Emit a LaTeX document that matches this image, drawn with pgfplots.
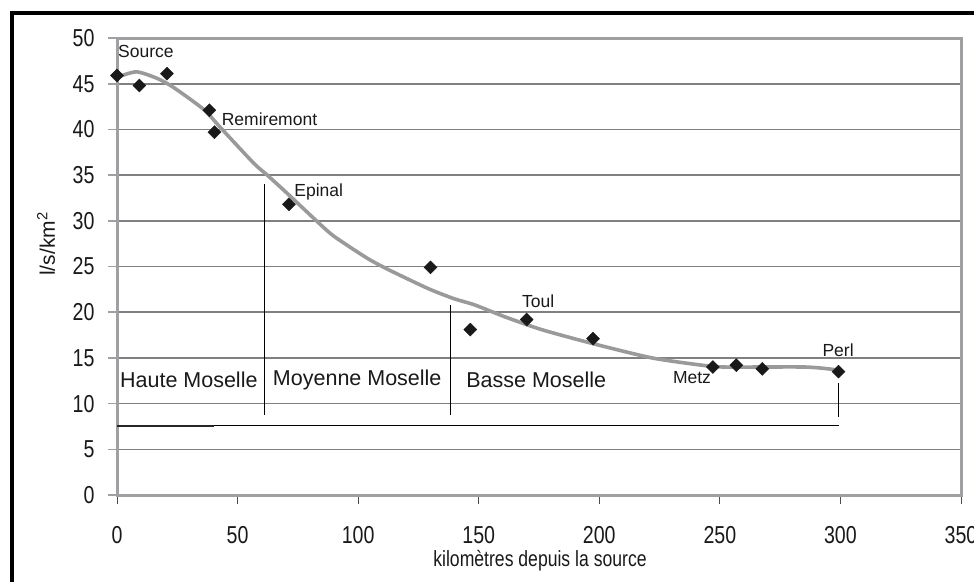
\documentclass[border=0pt]{standalone}
\usepackage{fontspec}
\setmainfont{Liberation Sans}
\newfontfamily\tickfont[FakeStretch=0.8]{Liberation Sans}
\newfontfamily\xlabfont[FakeStretch=0.8]{Liberation Sans}
\usepackage{pgfplots}
\pgfplotsset{compat=1.18}
\definecolor{gridgray}{HTML}{808080}
\definecolor{boxgray}{HTML}{A0A0A4}
\definecolor{curvegray}{HTML}{9A9A9A}
\begin{document}
\begin{tikzpicture}[x=1pt,y=1pt]
\useasboundingbox (0,0) rectangle (974,581);
% outer frame (top and left visible)
\draw[black, line width=4pt] (11.5,-5) -- (11.5,567.5) -- (980,567.5);
\begin{axis}[
  at={(117pt,86pt)}, anchor=south west,
  scale only axis, width=844pt, height=457pt,
  xmin=0, xmax=350, ymin=0, ymax=50,
  xtick={0,50,...,350}, ytick={0,5,...,50},
  xtick pos=bottom, ytick pos=left,
  ymajorgrids, grid style={gridgray, line width=1.6pt},
  axis line style={boxgray, line width=3pt},
  tick align=outside, major tick length=9pt,
  ytick style={boxgray, line width=1.6pt},
  xtick style={black!70, line width=0.8pt},
  /pgf/number format/assume math mode=true,
  tick label style={font=\tickfont\fontsize{24.5}{24.5}\selectfont, text=black!90},
  yticklabel style={xshift=-10pt},
  xticklabel style={yshift=-19pt},
  clip=false,
  axis on top=false,
]
% section boundary lines
\addplot[black, line width=0.9pt] coordinates {(61.3,34.0) (61.3,8.8)};
\addplot[black, line width=0.9pt] coordinates {(138.3,20.8) (138.3,8.8)};
\addplot[black, line width=0.9pt] coordinates {(299.2,12.3) (299.2,8.5)};
\addplot[black, line width=0.9pt] coordinates {(0,7.56) (299.2,7.56)};
\addplot[black!85, line width=2.6pt] coordinates {(0,7.56) (40.4,7.56)};
% trend curve
\addplot[curvegray, line width=3.6pt, smooth, tension=0.4] coordinates {
 (0,45.7) (8,46.3) (16.5,45.6) (23.4,44.6) (35.9,42.2) (42.9,40.2)
 (56.7,36.3) (62.3,35.0) (70.6,33.0) (83.1,29.9) (90,28.3) (103.8,25.9)
 (113,24.6) (128.9,22.6) (139.5,21.5) (148.3,20.8) (160.8,19.5) (176,18.1)
 (196.8,16.6) (221.8,15.0) (242.6,14.2) (252.3,14.0) (285.6,14.0) (298.1,13.7)};
% measured points
\addplot[only marks, mark=square*, mark size=4.6pt, mark options={rotate=45, fill=black!90, draw=black!90}, color=black] coordinates {
 (0,45.9) (9.3,44.8) (20.7,46.1) (38.3,42.1) (40.4,39.7) (71.3,31.8)
 (130,24.9) (146.5,18.1) (169.9,19.2) (197.4,17.1) (247.1,14.0)
 (256.8,14.2) (267.6,13.8) (299.2,13.5)};
% labels
\begin{scope}[every node/.style={font=\fontsize{17.5}{17.5}\selectfont, anchor=west, inner sep=0pt, text=black!90}]
\node at (axis cs:0.4,48.55) {Source};
\node at (axis cs:43.4,41.1) {Remiremont};
\node at (axis cs:73.5,33.2) {Epinal};
\node at (axis cs:167.9,21.25) {Toul};
\node at (axis cs:230.5,12.8) {Metz};
\node at (axis cs:292.5,15.8) {Perl};
\end{scope}
\begin{scope}[every node/.style={font=\fontsize{21.5}{21.5}\selectfont, anchor=west, inner sep=0pt, text=black!90}]
\node at (axis cs:1.2,12.6) {Haute Moselle};
\node at (axis cs:64.6,12.6) {Moyenne Moselle};
\node at (axis cs:144.8,12.6) {Basse Moselle};
\end{scope}
\end{axis}
\node[rotate=90, font=\fontsize{21}{21}\selectfont, inner sep=0pt, text=black!90] at (46,337) {l/s/km\textsuperscript{2}};
\node[font=\xlabfont\fontsize{22}{22}\selectfont, inner sep=0pt, text=black!90] at (540,20) {kilomètres depuis la source};
\end{tikzpicture}
\end{document}
